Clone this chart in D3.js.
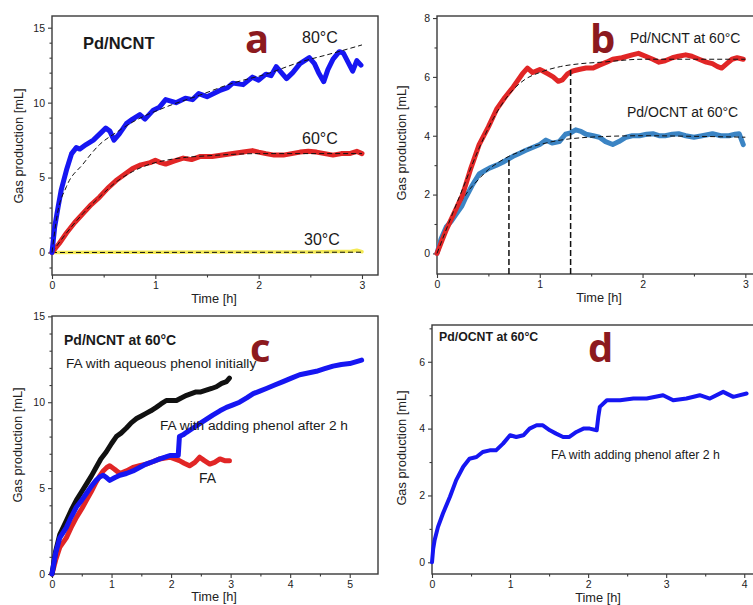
<!DOCTYPE html>
<html>
<head>
<meta charset="utf-8">
<script src="https://cdn.jsdelivr.net/npm/d3@7"></script>
<style>
body { margin: 0; background: #fff; }
svg { display: block; font-family: "Liberation Sans", Arial, sans-serif; }
</style>
</head>
<body>
<svg id="fig" width="753" height="605"></svg>
<script>
// ---- data: [time h, gas mL] ----
const a80 = [[0,0],[0.026,1.7],[0.058,3.0],[0.09,4.2],[0.14,5.5],[0.19,6.6],[0.235,7.0],[0.27,6.9],[0.33,7.2],[0.4,7.5],[0.46,7.9],[0.52,8.3],[0.56,8.1],[0.6,7.5],[0.65,7.9],[0.72,8.6],[0.78,8.9],[0.85,9.2],[0.9,8.9],[0.98,9.5],[1.04,9.7],[1.1,10.2],[1.2,10.0],[1.29,10.3],[1.36,10.2],[1.42,10.6],[1.5,10.4],[1.62,10.8],[1.7,11.0],[1.75,11.3],[1.85,11.2],[1.94,11.7],[2.0,11.5],[2.07,11.9],[2.12,11.8],[2.17,12.4],[2.22,12.0],[2.27,11.6],[2.33,12.0],[2.4,12.6],[2.49,13.0],[2.54,12.6],[2.58,12.0],[2.63,11.4],[2.67,12.2],[2.72,12.9],[2.78,13.4],[2.82,13.3],[2.85,12.9],[2.91,12.1],[2.95,12.8],[2.99,12.5]];
const a80fit = [[0,0],[0.05,2.5],[0.14,4.4],[0.3,5.9],[0.46,7.2],[0.62,8.0],[0.78,8.7],[1.1,9.7],[1.43,10.5],[1.75,11.3],[2.07,11.9],[2.4,12.7],[2.72,13.3],[3.0,13.85]];
const a60 = [[0,0],[0.07,0.6],[0.14,1.3],[0.22,2.0],[0.3,2.6],[0.38,3.2],[0.46,3.7],[0.54,4.3],[0.62,4.8],[0.7,5.2],[0.78,5.6],[0.86,5.85],[0.95,6.0],[1.0,6.15],[1.05,6.0],[1.1,5.9],[1.18,6.1],[1.27,6.3],[1.35,6.2],[1.43,6.4],[1.55,6.4],[1.65,6.5],[1.75,6.6],[1.85,6.7],[1.94,6.8],[2.0,6.7],[2.07,6.6],[2.15,6.5],[2.24,6.5],[2.32,6.6],[2.4,6.7],[2.48,6.75],[2.56,6.7],[2.64,6.6],[2.72,6.5],[2.8,6.6],[2.88,6.6],[2.95,6.75],[3.0,6.6]];
const a60fit = [[0,0],[0.14,1.3],[0.3,2.6],[0.46,3.7],[0.62,4.7],[0.78,5.4],[0.95,5.9],[1.1,6.15],[1.3,6.35],[1.5,6.45],[1.75,6.55],[2.0,6.6],[2.5,6.6],[3.0,6.6]];
const a30 = [[0,0],[0.5,0.02],[1,0.02],[1.5,0.03],[2,0.03],[2.5,0.04],[2.9,0.08],[2.95,0.15],[3.0,0.05]];
const a30fit = [[0,0],[3,0.02]];

const bNCNT = [[0,0],[0.05,0.45],[0.09,0.8],[0.17,1.4],[0.25,2.0],[0.33,2.9],[0.41,3.7],[0.5,4.3],[0.58,4.9],[0.66,5.3],[0.74,5.65],[0.83,6.1],[0.88,6.3],[0.93,6.15],[1.0,6.25],[1.03,6.2],[1.08,6.1],[1.13,6.0],[1.18,5.85],[1.22,5.9],[1.27,6.1],[1.32,6.2],[1.38,6.25],[1.45,6.3],[1.52,6.3],[1.58,6.4],[1.65,6.5],[1.71,6.6],[1.8,6.65],[1.9,6.75],[1.96,6.8],[2.03,6.7],[2.1,6.6],[2.16,6.5],[2.22,6.55],[2.29,6.65],[2.35,6.7],[2.42,6.75],[2.48,6.7],[2.55,6.6],[2.62,6.5],[2.68,6.45],[2.73,6.35],[2.77,6.3],[2.82,6.45],[2.87,6.6],[2.92,6.65],[2.98,6.6]];
const bNCNTfit = [[0,0],[0.1,0.9],[0.25,2.2],[0.4,3.5],[0.55,4.6],[0.7,5.4],[0.85,5.9],[1.0,6.15],[1.2,6.35],[1.4,6.45],[1.6,6.5],[2.0,6.6],[2.5,6.6],[3.0,6.6]];
const bOCNT = [[0,0],[0.04,0.5],[0.09,0.9],[0.14,1.1],[0.19,1.35],[0.24,1.6],[0.28,1.9],[0.34,2.3],[0.41,2.7],[0.46,2.8],[0.51,2.9],[0.58,3.0],[0.64,3.1],[0.69,3.2],[0.74,3.3],[0.8,3.4],[0.86,3.5],[0.93,3.6],[1.0,3.7],[1.06,3.85],[1.12,3.75],[1.19,3.8],[1.25,4.05],[1.3,4.1],[1.35,4.2],[1.4,4.15],[1.45,4.05],[1.52,4.0],[1.58,3.95],[1.64,3.8],[1.71,3.7],[1.77,3.8],[1.84,3.95],[1.9,4.0],[1.97,4.0],[2.04,4.05],[2.1,4.07],[2.16,4.0],[2.22,4.0],[2.29,4.05],[2.35,4.07],[2.42,4.0],[2.5,3.95],[2.58,4.0],[2.68,4.07],[2.76,4.0],[2.84,4.0],[2.9,4.05],[2.94,4.07],[2.98,3.7]];
const bOCNTfit = [[0,0],[0.1,0.9],[0.2,1.55],[0.3,2.1],[0.4,2.5],[0.5,2.85],[0.6,3.1],[0.7,3.3],[0.8,3.45],[0.9,3.6],[1.0,3.7],[1.2,3.85],[1.4,3.93],[1.6,3.97],[2.0,4.0],[2.5,3.98],[3.0,3.95]];
const bMarkTimes = [0.7, 1.3];
const bMarkTops = [3.25, 6.25];

const cPhenol = [[0,0],[0.06,1.3],[0.13,2.3],[0.24,3.1],[0.32,3.7],[0.41,4.3],[0.5,4.8],[0.58,5.25],[0.66,5.7],[0.74,6.2],[0.82,6.7],[0.91,7.1],[1.0,7.6],[1.08,8.0],[1.16,8.2],[1.25,8.5],[1.33,8.8],[1.42,9.05],[1.5,9.2],[1.58,9.35],[1.66,9.5],[1.75,9.7],[1.83,9.9],[1.92,10.1],[2.0,10.1],[2.09,10.1],[2.17,10.25],[2.26,10.4],[2.34,10.5],[2.42,10.6],[2.5,10.6],[2.59,10.7],[2.68,10.8],[2.76,10.9],[2.85,11.1],[2.93,11.2],[2.98,11.4]];
const cAdded = [[0,0],[0.06,1.2],[0.13,2.1],[0.24,2.7],[0.32,3.3],[0.41,3.9],[0.5,4.3],[0.58,4.7],[0.66,5.1],[0.74,5.45],[0.8,5.65],[0.86,5.75],[0.92,5.6],[0.97,5.45],[1.05,5.6],[1.14,5.75],[1.25,5.85],[1.36,6.0],[1.47,6.2],[1.58,6.4],[1.7,6.55],[1.81,6.7],[1.9,6.8],[1.98,6.9],[2.05,6.9],[2.12,6.9],[2.14,8.0],[2.2,8.1],[2.26,8.25],[2.37,8.5],[2.48,8.75],[2.59,9.0],[2.7,9.25],[2.82,9.5],[2.93,9.7],[3.04,9.85],[3.15,10.0],[3.27,10.25],[3.38,10.5],[3.49,10.65],[3.6,10.8],[3.74,11.0],[3.88,11.2],[4.02,11.4],[4.16,11.6],[4.3,11.7],[4.44,11.8],[4.58,11.95],[4.72,12.1],[4.86,12.2],[5.0,12.25],[5.1,12.35],[5.2,12.45]];
const cFA = [[0,0],[0.06,0.8],[0.13,1.55],[0.24,2.1],[0.32,2.7],[0.41,3.3],[0.5,3.8],[0.58,4.3],[0.66,4.8],[0.74,5.35],[0.8,5.7],[0.86,6.0],[0.92,6.2],[0.97,6.3],[1.05,6.1],[1.14,5.85],[1.25,6.0],[1.36,6.2],[1.47,6.3],[1.58,6.4],[1.7,6.55],[1.81,6.7],[1.9,6.75],[1.98,6.8],[2.06,6.7],[2.14,6.6],[2.22,6.45],[2.31,6.3],[2.4,6.5],[2.48,6.8],[2.56,6.6],[2.65,6.4],[2.73,6.5],[2.82,6.7],[2.9,6.6],[2.98,6.6]];

const dAdded = [[0,0],[0.015,0.4],[0.034,0.67],[0.077,1.06],[0.14,1.46],[0.23,1.96],[0.31,2.46],[0.4,2.86],[0.48,3.1],[0.57,3.15],[0.65,3.3],[0.74,3.35],[0.82,3.35],[0.91,3.55],[1.0,3.8],[1.08,3.75],[1.17,3.8],[1.25,4.0],[1.34,4.1],[1.42,4.1],[1.51,3.95],[1.59,3.85],[1.68,3.75],[1.76,3.75],[1.85,3.9],[1.94,4.0],[2.02,4.0],[2.11,3.95],[2.13,4.35],[2.15,4.65],[2.24,4.85],[2.41,4.85],[2.58,4.9],[2.75,4.9],[2.96,5.0],[3.09,4.85],[3.26,4.9],[3.43,5.0],[3.56,4.9],[3.73,5.1],[3.86,4.95],[4.03,5.05]];

// tick values
const aXTicks = [0, 1, 2, 3], aYTicks = [0, 5, 10, 15];
const bXTicks = [0, 1, 2, 3], bYTicks = [0, 2, 4, 6, 8];
const cXTicks = [0, 1, 2, 3, 4, 5], cYTicks = [0, 5, 10, 15];
const dXTicks = [0, 1, 2, 3, 4], dYTicks = [0, 2, 4, 6];

const BLUE = '#1616f2', RED = '#e12626', STEEL = '#3b84c4', MAROON = '#8c1a1e';
const svg = d3.select('#fig');

function panel(o) {
  const x = d3.scaleLinear().domain(o.xDomain).range([o.left, o.right]);
  const y = d3.scaleLinear().domain(o.yDomain).range([o.bottom, o.top]);
  const g = svg.append('g');

  const minorX = d3.range(o.xDomain[0], o.xDomain[1], 0.5).filter(v => v % 1 !== 0);
  const minorY = d3.range(Math.ceil(o.yDomain[0]), o.yDomain[1], 1).filter(v => !o.yTicks.includes(v));

  const styleAxis = sel => {
    sel.select('.domain').remove();
    sel.selectAll('line').attr('stroke', '#3a3a3a').attr('stroke-width', 1.1);
    sel.selectAll('text').attr('font-size', 10.5).attr('fill', '#222')
      .attr('font-family', '"Liberation Sans", Arial, sans-serif');
  };
  g.append('g').attr('transform', `translate(0,${o.bottom})`)
    .call(d3.axisBottom(x).tickValues(o.xTicks).tickSize(4).tickPadding(2.5).tickFormat(d3.format('d'))).call(styleAxis);
  g.append('g').attr('transform', `translate(0,${o.bottom})`)
    .call(d3.axisBottom(x).tickValues(minorX).tickSize(2.5).tickFormat('')).call(styleAxis);
  g.append('g').attr('transform', `translate(${o.left},0)`)
    .call(d3.axisLeft(y).tickValues(o.yTicks).tickSize(4).tickFormat(d3.format('d'))).call(styleAxis);
  g.append('g').attr('transform', `translate(${o.left},0)`)
    .call(d3.axisLeft(y).tickValues(minorY).tickSize(2.5).tickFormat('')).call(styleAxis);

  g.append('rect')
    .attr('x', o.left).attr('y', o.top)
    .attr('width', o.right - o.left).attr('height', o.bottom - o.top)
    .attr('fill', 'none').attr('stroke', '#3a3a3a').attr('stroke-width', 1.4);

  g.append('text')
    .attr('transform', `translate(${o.yLabel[0]},${o.yLabel[1]}) rotate(-90)`)
    .attr('text-anchor', 'middle').attr('font-size', 12.8).attr('fill', '#222')
    .text('Gas production [mL]');
  g.append('text')
    .attr('x', o.xLabel[0]).attr('y', o.xLabel[1])
    .attr('text-anchor', 'middle').attr('font-size', 12.8).attr('fill', '#222')
    .text('Time [h]');

  const line = d3.line().x(d => x(d[0])).y(d => y(d[1]));
  const smooth = d3.line().x(d => x(d[0])).y(d => y(d[1])).curve(d3.curveMonotoneX);
  const data = (arr, color, w) => g.append('path').datum(arr)
    .attr('d', line).attr('fill', 'none').attr('stroke', color)
    .attr('stroke-width', w).attr('stroke-linejoin', 'round').attr('stroke-linecap', 'round');
  const fit = arr => g.append('path').datum(arr)
    .attr('d', smooth).attr('fill', 'none').attr('stroke', '#111')
    .attr('stroke-width', 1).attr('stroke-dasharray', '5,3');
  const label = (t, px, py, size, opts = {}) => g.append('text')
    .attr('x', px).attr('y', py).attr('font-size', size)
    .attr('font-weight', opts.bold ? 'bold' : null)
    .attr('fill', opts.fill || '#1a1a1a')
    .attr('font-family', opts.family || null)
    .text(t);
  return { g, x, y, data, fit, label };
}

// ---- a ----
const pa = panel({ left: 52, right: 378, top: 16, bottom: 275,
  xDomain: [0, 3.155], yDomain: [-1.5, 15.78], xTicks: aXTicks, yTicks: aYTicks,
  yLabel: [22.5, 146], xLabel: [214, 303] });
pa.data(a30, '#f4ea55', 3.5);
pa.fit(a30fit);
pa.data(a60, RED, 5);
pa.fit(a60fit);
pa.data(a80, BLUE, 5);
pa.fit(a80fit);
pa.label('Pd/NCNT', 83, 49, 16.5, { bold: true });
pa.label('a', 245, 53, 40, { bold: true, fill: MAROON, family: '"Open Sans", sans-serif' });
pa.label('80°C', 302, 43, 16);
pa.label('60°C', 302, 144, 16);
pa.label('30°C', 304, 244.5, 16);

// ---- b ----
const pb = panel({ left: 437, right: 770, top: 16, bottom: 274,
  xDomain: [0, 3.24], yDomain: [-0.7, 8.07], xTicks: bXTicks, yTicks: bYTicks,
  yLabel: [406, 143], xLabel: [599, 302] });
pb.data(bOCNT, STEEL, 5);
pb.fit(bOCNTfit);
pb.data(bNCNT, RED, 5);
pb.fit(bNCNTfit);
pb.g.selectAll('.mark').data(bMarkTimes).join('line').attr('class', 'mark')
  .attr('x1', d => pb.x(d)).attr('x2', d => pb.x(d))
  .attr('y1', pb.y(-0.7)).attr('y2', (d, i) => pb.y(bMarkTops[i]))
  .attr('stroke', '#111').attr('stroke-width', 1.5).attr('stroke-dasharray', '6,3');
pb.label('b', 590, 53, 40, { bold: true, fill: MAROON, family: '"Open Sans", sans-serif' });
pb.label('Pd/NCNT at 60°C', 630, 43, 14);
pb.label('Pd/OCNT at 60°C', 627, 117, 14);

// ---- c ----
const pc = panel({ left: 52, right: 378, top: 316, bottom: 574,
  xDomain: [0, 5.475], yDomain: [0, 15.02], xTicks: cXTicks, yTicks: cYTicks,
  yLabel: [22, 445], xLabel: [214, 601] });
pc.data(cFA, RED, 5);
pc.data(cPhenol, '#111', 5);
pc.data(cAdded, BLUE, 5);
pc.label('Pd/NCNT at 60°C', 64, 345, 14, { bold: true });
pc.label('c', 250, 362, 40, { bold: true, fill: MAROON, family: '"Open Sans", sans-serif' });
pc.label('FA with aqueous phenol initially', 66, 368, 13.7);
pc.label('FA with adding phenol after 2 h', 160, 430, 13.7);
pc.label('FA', 199, 483, 14);

// ---- d ----
const pd = panel({ left: 432, right: 770, top: 325, bottom: 574,
  xDomain: [0, 4.33], yDomain: [-0.35, 7.1], xTicks: dXTicks, yTicks: dYTicks,
  yLabel: [405.5, 448], xLabel: [598, 602] });
pd.data(dAdded, BLUE, 4);
pd.label('Pd/OCNT at 60°C', 439, 341, 12.3, { bold: true });
pd.label('d', 588, 362, 40, { bold: true, fill: MAROON, family: '"Open Sans", sans-serif' });
pd.label('FA with adding phenol after 2 h', 551, 459, 12.3);
</script>
</body>
</html>
